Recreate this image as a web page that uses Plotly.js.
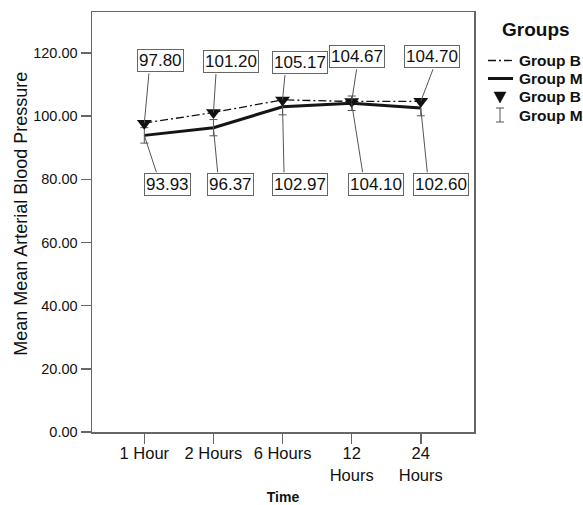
<!DOCTYPE html>
<html>
<head>
<meta charset="utf-8">
<script src="https://cdn.plot.ly/plotly-3.0.1.min.js"></script>
<style>html,body{margin:0;padding:0;background:#fff;}#chart{width:583px;height:505px;}</style>
</head>
<body>
<div id="chart"></div>
<script>
// ---- data ----
var categories = ['1 Hour', '2 Hours', '6 Hours', '12<br>Hours', '24<br>Hours'];
var groupB = [97.80, 101.20, 105.17, 104.67, 104.70];
var groupM = [93.93, 96.37, 102.97, 104.10, 102.60];
var groupMErr = [2.45, 2.57, 2.53, 2.3, 2.47];
var yTickVals = [0, 20, 40, 60, 80, 100, 120];
var xTitle = 'Time';
var yTitle = 'Mean Mean Arterial Blood Pressure';
var legendTitle = 'Groups';
var legendLabels = ['Group B', 'Group M', 'Group B', 'Group M'];

// ---- label placement (pixel offsets from the data point) ----
var topShiftX = [16, 17.4, 17.5, 5.4, 11.5];
var topShiftY = [62.3, 50.9, 37.3, 44.7, 44.6];
var topLeadDx = [-11.3, -14.8, -15, -0.3, 1.1];
var botShiftX = [23.2, 17.4, 17.2, 23.9, 20.5];
var botShiftY = [-49.4, -57.1, -78, -81.5, -76.8];
var botLeadDx = [-10.8, -13.1, -15.7, -12.8, -13.9];

var FONT = 'Liberation Sans, Arial, sans-serif';
var INK = '#111';
var DASHDOT = '8px,3px,2px,3px';

// plot-area frame in pixels (for the hand-placed legend and y title)
var PL = 92, PR = 474, PT = 12, PB = 432;
function fx(px) { return (px - PL) / (PR - PL); }
function fy(py) { return (PB - py) / (PB - PT); }

var traces = [
  {x: categories, y: groupB, name: 'Group B', type: 'scatter', mode: 'lines', showlegend: false,
   line: {color: '#111', width: 1.3, dash: DASHDOT}},
  {x: categories, y: groupM, name: 'Group M', type: 'scatter', mode: 'lines', showlegend: false,
   line: {color: '#151515', width: 3}},
  {x: categories, y: groupM, name: 'Group M', type: 'scatter', mode: 'markers', showlegend: false,
   marker: {size: 1, opacity: 0},
   error_y: {type: 'data', array: groupMErr, visible: true, color: '#555', thickness: 1, width: 4}},
  {x: categories, y: groupB, name: 'Group B', type: 'scatter', mode: 'markers', showlegend: false,
   marker: {symbol: 'triangle-down', size: 13, color: '#111'}}
];

var annotations = [];
function addLabels(vals, sx, sy, ldx, isTop) {
  for (var i = 0; i < vals.length; i++) {
    var edge = isTop ? 11.5 : -11.5;
    annotations.push({
      x: categories[i], y: vals[i], xref: 'x', yref: 'y',
      text: ' ', showarrow: true, arrowhead: 0, arrowwidth: 1, arrowcolor: '#555',
      ax: sx[i] + ldx[i], ay: -sy[i] + edge, axref: 'pixel', ayref: 'pixel',
      font: {size: 1}, borderpad: 0, bgcolor: 'rgba(0,0,0,0)', standoff: 0
    });
  }
  for (var j = 0; j < vals.length; j++) {
    annotations.push({
      x: categories[j], y: vals[j], xref: 'x', yref: 'y',
      text: vals[j].toFixed(2), showarrow: false,
      xshift: sx[j], yshift: sy[j],
      font: {family: FONT, size: 17, color: INK},
      bgcolor: '#fff', bordercolor: '#666', borderwidth: 1, borderpad: 1
    });
  }
}
addLabels(groupB, topShiftX, topShiftY, topLeadDx, true);
addLabels(groupM, botShiftX, botShiftY, botLeadDx, false);

// y-axis title (placed like the SPSS original, slightly above centre)
annotations.push({
  xref: 'paper', yref: 'paper', x: fx(21), y: fy(213.8), xanchor: 'center', yanchor: 'middle',
  text: yTitle, textangle: -90, showarrow: false,
  font: {family: FONT, size: 18, color: INK}
});

// ---- legend (drawn by hand to match the SPSS layout) ----
var legRowsY = [60.5, 78.5, 97, 115];
annotations.push({
  xref: 'paper', yref: 'paper', x: fx(536), y: fy(30), xanchor: 'center', yanchor: 'middle',
  text: legendTitle, showarrow: false,
  font: {family: FONT, size: 19, color: INK, weight: 'bold'}
});
legendLabels.forEach(function (lab, k) {
  annotations.push({
    xref: 'paper', yref: 'paper', x: fx(517), y: fy(legRowsY[k]), xanchor: 'left', yanchor: 'middle',
    text: lab, showarrow: false,
    font: {family: FONT, size: 15.5, color: INK, weight: 'bold'}
  });
});
var shapes = [
  {type: 'line', xref: 'paper', yref: 'paper', x0: fx(488), x1: fx(513), y0: fy(legRowsY[0]), y1: fy(legRowsY[0]),
   line: {color: '#111', width: 1.3, dash: DASHDOT}},
  {type: 'line', xref: 'paper', yref: 'paper', x0: fx(488), x1: fx(513), y0: fy(legRowsY[1]), y1: fy(legRowsY[1]),
   line: {color: '#151515', width: 3}},
  {type: 'path', xref: 'paper', yref: 'paper',
   path: 'M' + fx(494) + ',' + fy(legRowsY[2] - 5) + ' L' + fx(506) + ',' + fy(legRowsY[2] - 5) +
         ' L' + fx(500) + ',' + fy(legRowsY[2] + 6) + ' Z',
   fillcolor: '#111', line: {color: '#111', width: 0.5}},
  {type: 'path', xref: 'paper', yref: 'paper',
   path: 'M' + fx(496) + ',' + fy(legRowsY[3] - 7) + ' L' + fx(504) + ',' + fy(legRowsY[3] - 7) +
         ' M' + fx(500) + ',' + fy(legRowsY[3] - 7) + ' L' + fx(500) + ',' + fy(legRowsY[3] + 7) +
         ' M' + fx(496) + ',' + fy(legRowsY[3] + 7) + ' L' + fx(504) + ',' + fy(legRowsY[3] + 7),
   line: {color: '#555', width: 1}}
];

var layout = {
  width: 583, height: 505,
  margin: {l: PL, r: 583 - PR, t: PT, b: 505 - PB, pad: 0},
  paper_bgcolor: '#fff', plot_bgcolor: '#fff',
  font: {family: FONT, color: INK},
  showlegend: false,
  xaxis: {
    type: 'category', range: [-0.757, 4.77], autorange: false,
    showline: true, linecolor: '#666', linewidth: 1.5, mirror: true,
    ticks: 'outside', ticklen: 10, tickcolor: '#666', tickwidth: 1.5,
    ticklabelstandoff: -4,
    showgrid: false, zeroline: false,
    tickfont: {family: FONT, size: 16.5, color: INK},
    title: {text: xTitle, font: {family: FONT, size: 14, color: INK, weight: 'bold'}, standoff: 10}
  },
  yaxis: {
    range: [0, 133], autorange: false,
    tickvals: yTickVals, tickformat: '.2f',
    showline: true, linecolor: '#666', linewidth: 1.5, mirror: true,
    ticks: 'outside', ticklen: 10, tickcolor: '#666', tickwidth: 1.5,
    showgrid: false, zeroline: false,
    tickfont: {family: FONT, size: 14.5, color: INK}
  },
  annotations: annotations,
  shapes: shapes
};

Plotly.newPlot('chart', traces, layout, {displayModeBar: false, staticPlot: true});
</script>
</body>
</html>
